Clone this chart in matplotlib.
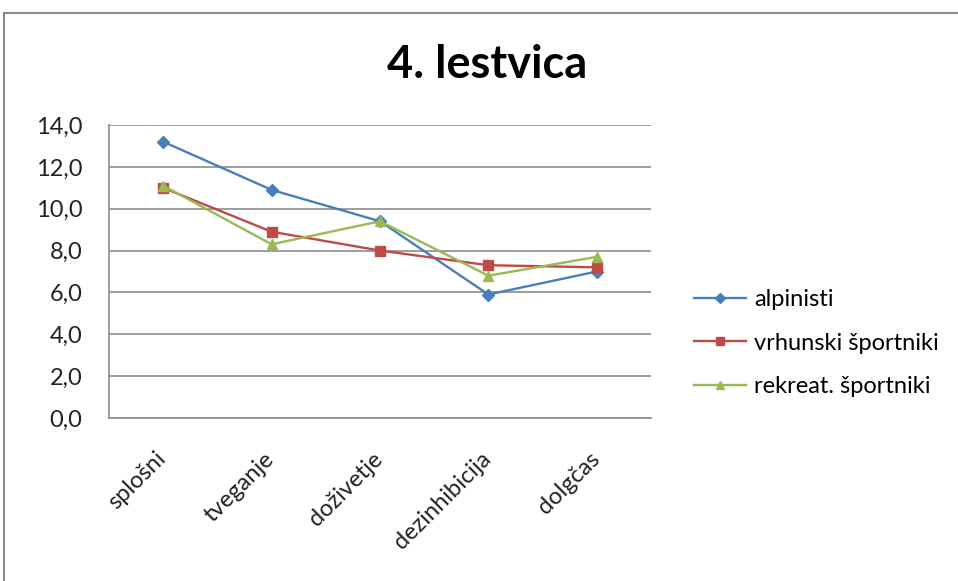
import numpy as np
import matplotlib; matplotlib.use('Agg'); import matplotlib.pyplot as plt
from matplotlib.lines import Line2D
from matplotlib.transforms import ScaledTranslation

plt.rcParams['font.family'] = ['Lato', 'DejaVu Sans']

categories = ['splošni', 'tveganje', 'doživetje', 'dezinhibicija', 'dolgčas']
alpinisti = [13.2, 10.9, 9.4, 5.9, 7.0]
vrhunski = [11.0, 8.9, 8.0, 7.3, 7.2]
rekreat = [11.1, 8.3, 9.4, 6.8, 7.7]
yticks = [0, 2, 4, 6, 8, 10, 12, 14]

W, H = 958, 581
fig = plt.figure(figsize=(W/100, H/100), dpi=100)

# chart border (left and top visible, rest is cut off)
fig.add_artist(Line2D([4/W, 4/W], [0, 1-13/H], color='#8c8c8c', lw=1.5))
fig.add_artist(Line2D([4/W, 1], [1-13/H, 1-13/H], color='#8c8c8c', lw=1.5))

ax = fig.add_axes([109/W, 1-418/H, (651-109)/W, (418-125)/H])
x = np.arange(len(categories))
ax.plot(x, alpinisti, color='#4A7EBB', lw=1.7, marker='D', ms=6.5, label='alpinisti')
ax.plot(x, vrhunski, color='#BE4B48', lw=1.7, marker='s', ms=7, label='vrhunski športniki')
ax.plot(x, rekreat, color='#98B954', lw=1.7, marker='^', ms=7.5, label='rekreat. športniki')

ax.set_xlim(-0.5, len(categories)-0.5)
ax.set_ylim(0, 14)
ax.set_yticks(yticks)
ax.set_yticklabels([f'{v:.1f}'.replace('.', ',') for v in yticks], fontsize=17, color='#222222')
ax.set_xticks(x)
ax.set_xticklabels([])
# rotated category labels, offset a little left/down from each tick
off = ScaledTranslation(-8/100, -30/100, fig.dpi_scale_trans)
for xi, name in zip(x, categories):
    ax.text(xi, 0, name, transform=ax.get_xaxis_transform() + off, rotation=45,
            ha='right', va='top', rotation_mode='anchor', fontsize=17, color='#222222')
ax.tick_params(axis='x', length=0)
ax.tick_params(axis='y', length=0, pad=19)
ax.grid(axis='y', color='#8c8c8c', lw=1.2)
ax.set_axisbelow(True)
for s in ['top', 'right']:
    ax.spines[s].set_visible(False)
for s in ['left', 'bottom']:
    ax.spines[s].set_color('#8c8c8c')
    ax.spines[s].set_linewidth(1.2)

fig.text(487/W, 1-65/H, '4. lestvica', fontsize=32.5, fontweight='bold', ha='center', va='center')

fig.legend(loc='center left', bbox_to_anchor=(673/W, 1-343/H), frameon=False, fontsize=17,
           handlelength=2.2, labelspacing=0.95, handletextpad=0.35, markerscale=0.75)

fig.savefig('out.png', dpi=100)
